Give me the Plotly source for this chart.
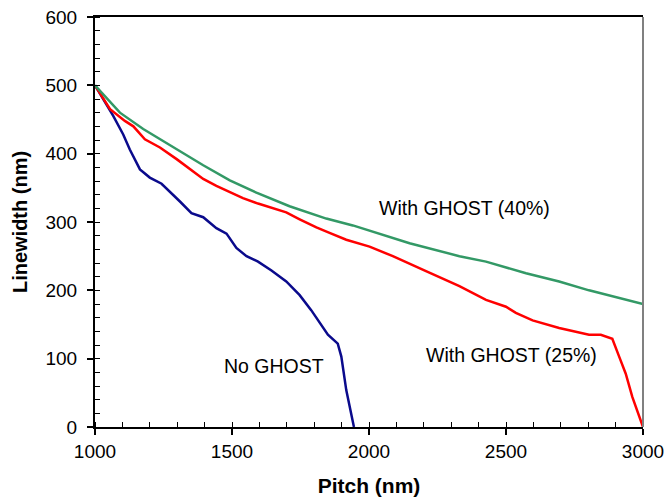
import plotly.graph_objects as go

# No GHOST
x_none = [1000, 1067, 1103, 1127, 1164, 1200, 1243, 1273, 1310, 1352, 1395, 1443, 1480, 1516,
          1553, 1595, 1644, 1698, 1747, 1789, 1820, 1850, 1886, 1899, 1917, 1945]
y_none = [500, 455, 428, 406, 377, 365, 356, 345, 330, 313, 307, 291, 283, 262,
          250, 242, 229, 213, 193, 171, 152, 135, 122, 103, 54, 0]

# With GHOST (25%)
x_25 = [1000, 1055, 1109, 1140, 1182, 1237, 1298, 1346, 1395, 1443, 1492, 1540, 1595, 1644,
        1698, 1747, 1808, 1856, 1917, 2002, 2087, 2208, 2330, 2427, 2500, 2536, 2597, 2694,
        2803, 2846, 2888, 2913, 2937, 2961, 3000]
y_25 = [500, 465, 448, 440, 421, 409, 392, 377, 363, 353, 344, 335, 327, 321,
        314, 304, 292, 284, 274, 264, 250, 228, 206, 186, 176, 167, 156, 145,
        135, 135, 129, 103, 78, 44, 0]

# With GHOST (40%)
x_40 = [1000, 1091, 1176, 1285, 1395, 1492, 1589, 1710, 1844, 1941, 2002, 2148, 2330, 2427,
        2573, 2694, 2803, 2900, 3000]
y_40 = [500, 460, 436, 409, 383, 361, 343, 323, 305, 295, 287, 269, 250, 242,
        225, 213, 200, 190, 180]

labels = ["No GHOST", "With GHOST (25%)", "With GHOST (40%)"]
label_x = [1652, 2519, 2348]
label_y = [89, 105, 321]

x_ticks = [1000, 1500, 2000, 2500, 3000]
y_ticks = [0, 100, 200, 300, 400, 500, 600]

FONT = "Liberation Sans, Arial, sans-serif"

fig = go.Figure()
fig.add_trace(go.Scatter(x=x_none, y=y_none, mode="lines", line=dict(color="#0a0a8c", width=2.5)))
fig.add_trace(go.Scatter(x=x_25, y=y_25, mode="lines", line=dict(color="#ff0000", width=2.5)))
fig.add_trace(go.Scatter(x=x_40, y=y_40, mode="lines", line=dict(color="#339966", width=2.5)))

for t, lx, ly in zip(labels, label_x, label_y):
    fig.add_annotation(x=lx, y=ly, text=t, showarrow=False,
                       font=dict(family=FONT, size=19.5, color="black"))

fig.add_shape(type="line", xref="paper", yref="paper", x0=1, x1=1, y0=0, y1=1,
              line=dict(color="#808080", width=2))

fig.update_layout(
    width=668, height=504,
    margin=dict(l=95, r=25, t=17, b=77),
    paper_bgcolor="white", plot_bgcolor="white",
    showlegend=False,
    font=dict(family=FONT, color="black"),
    xaxis=dict(range=[1000, 3000], tickvals=x_ticks, showgrid=False, zeroline=False,
               showline=True, linecolor="black", linewidth=2, mirror=True,
               ticks="outside", ticklen=6, tickwidth=1.5, tickcolor="black",
               tickfont=dict(size=19, family=FONT), automargin=False,
               minor=dict(dtick=100, ticks="inside", ticklen=5, tickwidth=1, tickcolor="black"),
               title=dict(text="<b>Pitch (nm)</b>", font=dict(size=21, family=FONT), standoff=18)),
    yaxis=dict(range=[0, 600], tickvals=y_ticks, showgrid=False, zeroline=False,
               showline=True, linecolor="black", linewidth=2,
               ticks="outside", ticklen=6, tickwidth=1.5, tickcolor="black",
               tickfont=dict(size=19, family=FONT), automargin=False, ticklabelstandoff=6,
               minor=dict(dtick=20, ticks="inside", ticklen=5, tickwidth=1, tickcolor="black"),
               title=dict(text="<b>Linewidth (nm)</b>", font=dict(size=20, family=FONT), standoff=12)),
)

fig.write_html("out.html")
